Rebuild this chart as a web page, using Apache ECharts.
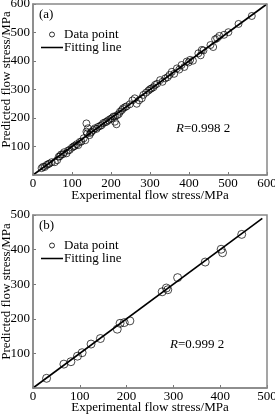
<!DOCTYPE html>
<html><head><meta charset="utf-8">
<script src="https://cdn.jsdelivr.net/npm/echarts@6/dist/echarts.min.js"></script>
<style>html,body{margin:0;padding:0;background:#fff}#c{width:275px;height:414px}</style>
</head><body><div id="c"></div>
<script>
// Panel (a) data
const expA = [22,26,30,35,39,42,48,56,62,66,69,72,77,80,86,90,94,100,104,107,112,116,120,124,130,134,137,137,139,141,145,148,150,155,159,163,167,172,176,180,185,189,193,198,202,206,210,210,214,216,220,223,228,231,236,240,248,255,261,266,272,279,283,290,296,300,304,309,313,318,326,332,339,345,350,356,362,369,375,381,388,394,399,403,410,424,430,433,437,455,462,467,472,478,490,501,527,561];
const predA = [24,29,28,35,38,40,45,45,52,64,66,72,73,80,76,86,88,96,100,102,108,105,116,117,129,122,181,152,146,164,140,148,152,158,164,162,169,172,175,182,185,187,192,196,199,205,205,187,178,210,214,222,228,234,238,241,248,262,269,250,262,269,281,289,296,301,304,308,316,320,333,327,339,343,351,362,355,374,370,386,379,398,395,404,401,427,420,439,437,456,449,476,480,488,492,501,530,558];
// Panel (b) data
const expB = [29,66,81,95,105,124,144,180,186,195,207,276,285,288,309,368,402,405,446];
const predB = [28,69,76,92,102,127,143,170,187,189,194,278,289,284,319,364,401,391,444];
// Fitting lines (start, end)
const fitA = [0, 600];
const fitB = [0, 490];
// Axis settings
const axisMaxA = 600, axisMaxB = 500, tickStep = 100;

const font = 'Liberation Serif';
const fs = 13;
const chart = echarts.init(document.getElementById('c'), null, {renderer:'canvas'});
function mainAxis(max, grid){
  return {
    gridIndex:grid, min:0, max:max, interval:tickStep,
    axisLine:{show:true, onZero:false, lineStyle:{color:'#888', width:1.5}},
    axisTick:{show:true, inside:true, length:3, lineStyle:{color:'#777'}},
    splitLine:{show:false},
    axisLabel:{color:'#000', fontFamily:font, fontSize:fs, margin:2},
    nameTextStyle:{color:'#000', fontFamily:font, fontSize:fs},
    nameLocation:'middle', nameMoveOverlap:false
  };
}
const pts = (xs, ys) => xs.map((x,i)=>[x, ys[i]]);
const lineStyle = {color:'#000', width:1.6};
const scatterStyle = {color:'rgba(0,0,0,0)', borderColor:'#000', borderWidth:0.9};
const legendBase = {
  orient:'vertical', itemWidth:22, itemHeight:5, itemGap:0, padding:0,
  textStyle:{color:'#000', fontFamily:font, fontSize:fs, lineHeight:12, padding:[0,0,0,-4]},
  data:[
    {name:'Data point', icon:'circle', itemStyle:{color:'rgba(0,0,0,0)', borderColor:'#000', borderWidth:1}},
    {name:'Fitting line', icon:'path://M0,0L20,0L20,1.4L0,1.4Z', itemStyle:{color:'#000'}}
  ]
};
const yLabel = {color:'#000', fontFamily:font, fontSize:fs, margin:3, showMinLabel:false};
const yName = {color:'#000', fontFamily:font, fontSize:fs, padding:[0,0,0,20]};
const texts = [
  {type:'text', left:39, top:8, style:{text:'(a)', font:'13px "Liberation Serif"', fill:'#000'}},
  {type:'text', left:39, top:219, style:{text:'(b)', font:'13px "Liberation Serif"', fill:'#000'}},
  {type:'text', left:176, top:122, style:{text:'{i|R}=0.998 2', font:'13px "Liberation Serif"', fill:'#000', rich:{i:{fontStyle:'italic', fontFamily:font, fontSize:fs}}}},
  {type:'text', left:170, top:338, style:{text:'{i|R}=0.999 2', font:'13px "Liberation Serif"', fill:'#000', rich:{i:{fontStyle:'italic', fontFamily:font, fontSize:fs}}}}
];
chart.setOption({
  animation:false,
  grid:[
    {left:33, top:4, width:234, height:171, show:false, containLabel:false, outerBoundsMode:'none'},
    {left:33, top:215, width:234, height:173, show:false, containLabel:false, outerBoundsMode:'none'}
  ],
  xAxis:[
    Object.assign(mainAxis(axisMaxA, 0), {name:'Experimental flow stress/MPa', nameGap:14}),
    Object.assign(mainAxis(axisMaxB, 1), {name:'Experimental flow stress/MPa', nameGap:13})
  ],
  yAxis:[
    Object.assign(mainAxis(axisMaxA, 0), {name:'Predicted flow stress/MPa', nameGap:20, axisLabel:yLabel, nameTextStyle:yName}),
    Object.assign(mainAxis(axisMaxB, 1), {name:'Predicted flow stress/MPa', nameGap:20, axisLabel:yLabel, nameTextStyle:yName})
  ],
  legend:[
    Object.assign({}, legendBase, {left:41, top:28}),
    Object.assign({}, legendBase, {left:41, top:239, id:'lb'})
  ],
  series:[
    {name:'Data point', type:'scatter', xAxisIndex:0, yAxisIndex:0, data:pts(expA,predA), symbol:'circle', symbolSize:7, itemStyle:scatterStyle, z:3},
    {name:'Fitting line', type:'line', xAxisIndex:0, yAxisIndex:0, data:[[fitA[0],fitA[0]],[fitA[1],fitA[1]]], showSymbol:false, symbol:'none', lineStyle:lineStyle, z:4},
    {name:'Data point', type:'scatter', xAxisIndex:1, yAxisIndex:1, data:pts(expB,predB), symbol:'circle', symbolSize:8, itemStyle:scatterStyle, z:3},
    {name:'Fitting line', type:'line', xAxisIndex:1, yAxisIndex:1, data:[[fitB[0],fitB[0]],[fitB[1],fitB[1]]], showSymbol:false, symbol:'none', lineStyle:lineStyle, z:4}
  ],
  graphic:texts
});
// Plot frames derived from each grid's scales
function frame(gi, max){
  const p0 = chart.convertToPixel({gridIndex:gi}, [0, 0]);
  const p1 = chart.convertToPixel({gridIndex:gi}, [max, max]);
  return {type:'rect', silent:true, z:10,
    shape:{x:p0[0], y:p1[1], width:p1[0]-p0[0], height:p0[1]-p1[1]},
    style:{fill:null, stroke:'#888', lineWidth:1.5}};
}
chart.setOption({graphic: texts.concat([frame(0, axisMaxA), frame(1, axisMaxB)])});
</script></body></html>
